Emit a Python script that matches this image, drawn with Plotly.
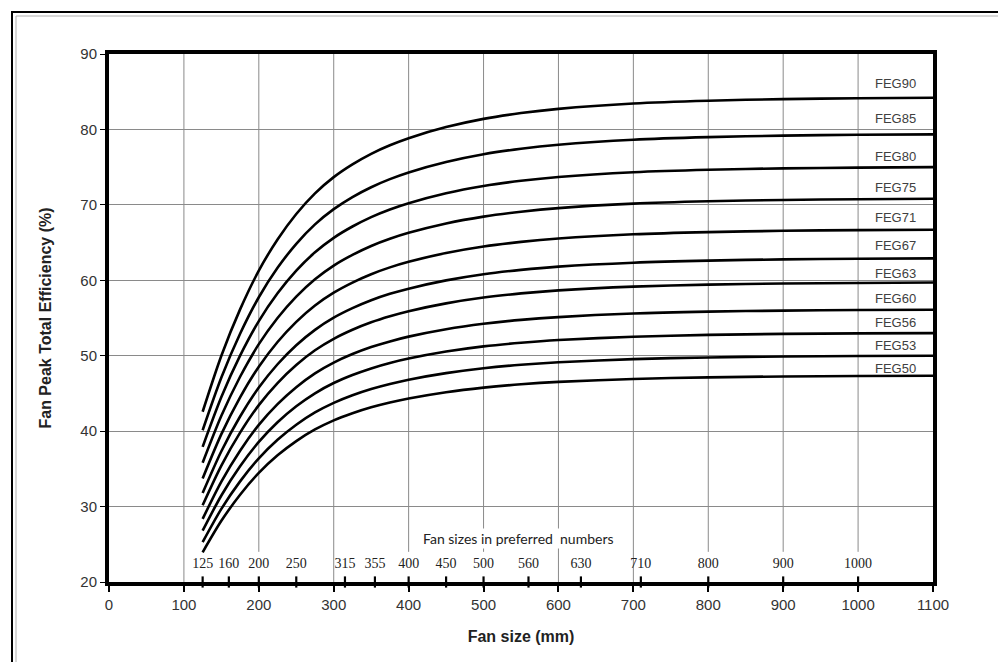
import plotly.graph_objects as go

# ---------------- data ----------------
fan_size = [125, 150, 175, 200, 225, 250, 275, 300, 325, 350, 375, 400, 450, 500, 550,
            600, 700, 800, 900, 1000, 1100]

grades = ["FEG90", "FEG85", "FEG80", "FEG75", "FEG71", "FEG67",
          "FEG63", "FEG60", "FEG56", "FEG53", "FEG50"]

feg90 = [42.57, 49.99, 56.14, 61.28, 65.41, 68.79, 71.53, 73.68, 75.37, 76.77, 77.90, 78.84, 80.31,
         81.40, 82.17, 82.73, 83.44, 83.81, 84.02, 84.13, 84.20]
feg85 = [40.12, 47.11, 52.91, 57.75, 61.65, 64.83, 67.41, 69.43, 71.03, 72.34, 73.41, 74.30, 75.68,
         76.71, 77.44, 77.97, 78.64, 78.98, 79.18, 79.29, 79.35]
feg80 = [37.92, 44.53, 50.01, 54.59, 58.27, 61.28, 63.71, 65.63, 67.13, 68.38, 69.39, 70.22, 71.54,
         72.50, 73.19, 73.70, 74.33, 74.66, 74.84, 74.94, 75.00]
feg75 = [35.80, 42.03, 47.21, 51.53, 55.00, 57.84, 60.14, 61.95, 63.37, 64.55, 65.50, 66.29, 67.53,
         68.44, 69.09, 69.57, 70.16, 70.47, 70.65, 70.74, 70.80]
feg71 = [33.72, 39.60, 44.48, 48.54, 51.82, 54.49, 56.66, 58.36, 59.70, 60.81, 61.71, 62.45, 63.62,
         64.48, 65.09, 65.54, 66.10, 66.39, 66.56, 66.65, 66.70]
feg67 = [31.80, 37.34, 41.94, 45.78, 48.87, 51.39, 53.43, 55.04, 56.30, 57.35, 58.20, 58.89, 59.99,
         60.81, 61.38, 61.81, 62.33, 62.61, 62.77, 62.85, 62.90]
feg63 = [30.18, 35.44, 39.81, 43.45, 46.38, 48.77, 50.72, 52.24, 53.44, 54.43, 55.23, 55.90, 56.94,
         57.71, 58.26, 58.66, 59.16, 59.43, 59.57, 59.65, 59.70]
feg60 = [28.36, 33.31, 37.41, 40.83, 43.58, 45.83, 47.66, 49.09, 50.22, 51.15, 51.90, 52.53, 53.51,
         54.23, 54.75, 55.12, 55.60, 55.84, 55.98, 56.06, 56.10]
feg56 = [26.80, 31.47, 35.34, 38.57, 41.18, 43.30, 45.02, 46.38, 47.44, 48.32, 49.04, 49.62, 50.55,
         51.24, 51.72, 52.08, 52.52, 52.76, 52.89, 52.96, 53.00]
feg53 = [25.28, 29.69, 33.34, 36.39, 38.85, 40.85, 42.48, 43.75, 44.76, 45.59, 46.26, 46.82, 47.69,
         48.34, 48.80, 49.13, 49.55, 49.77, 49.90, 49.96, 50.00]
feg50 = [23.94, 28.11, 31.57, 34.46, 36.79, 38.68, 40.22, 41.43, 42.38, 43.17, 43.81, 44.33, 45.16,
         45.77, 46.21, 46.53, 46.92, 47.13, 47.25, 47.31, 47.35]

series = [feg90, feg85, feg80, feg75, feg71, feg67, feg63, feg60, feg56, feg53, feg50]

preferred_sizes = [125, 160, 200, 250, 315, 355, 400, 450, 500, 560, 630, 710, 800, 900, 1000]
x_ticks = list(range(0, 1101, 100))
y_ticks = list(range(20, 91, 10))
full_grid_x = [100, 300, 600, 700]

# ---------------- figure ----------------
# page body has an 8px margin, so the figure is sized/offset accordingly
W, H = 998, 654
ML, MR, MT, MB = 101, 73, 46, 80
PW, PH = W - ML - MR, H - MT - MB
FONT = "Liberation Sans, Arial"

fig = go.Figure()

for name, vals in zip(grades, series):
    fig.add_trace(go.Scatter(
        x=fan_size, y=vals, mode="lines", name=name,
        line=dict(color="black", width=2.6, shape="spline", smoothing=0.8),
        showlegend=False, hoverinfo="x+y+name"))

# label shifts (px) above curve end
label_shift = [5, 6, 1, 2, 3, 3, 0, 2, 1, 1, -2]
for name, vals, ys in zip(grades, series, label_shift):
    fig.add_annotation(x=1080, y=vals[-1], text=name, showarrow=False,
                       xanchor="right", yanchor="bottom", yshift=ys,
                       font=dict(family=FONT, size=13, color="#404040"))

# preferred-number markers on the x axis
fig.add_trace(go.Scatter(
    x=preferred_sizes, y=[20] * len(preferred_sizes), mode="markers",
    marker=dict(symbol="line-ns", size=8, line=dict(color="black", width=2.2)),
    cliponaxis=False, showlegend=False, hoverinfo="skip"))
fig.add_trace(go.Scatter(
    x=preferred_sizes, y=[22.3] * len(preferred_sizes), mode="text",
    text=[str(v) for v in preferred_sizes],
    textfont=dict(family="Liberation Serif, DejaVu Serif", size=14, color="#222"),
    showlegend=False, hoverinfo="skip"))

fig.add_annotation(x=547, y=25.8, text="Fan sizes in preferred  numbers", showarrow=False,
                   bgcolor="white", borderpad=1,
                   font=dict(family="Lato, Open Sans", size=14, color="#222"))

# vertical gridlines (some stop above the preferred-number row)
for gx in x_ticks[1:-1]:
    y0 = 20 if gx in full_grid_x else 24.0
    fig.add_shape(type="line", x0=gx, x1=gx, y0=y0, y1=90, xref="x", yref="y",
                  line=dict(color="#8a8a8a", width=1), layer="below")

# outer frame (black outer line, grey inner line)
fig.add_shape(type="rect", xref="paper", yref="paper",
              x0=(4 - ML) / PW, x1=(997 - ML) / PW,
              y0=(H - MB - 660) / PH, y1=(H - MB - 4) / PH,
              line=dict(color="black", width=2), fillcolor="rgba(0,0,0,0)")
fig.add_shape(type="rect", xref="paper", yref="paper",
              x0=(8 - ML) / PW, x1=(993 - ML) / PW,
              y0=(H - MB - 660) / PH, y1=(H - MB - 8) / PH,
              line=dict(color="#b0b0b0", width=1), fillcolor="rgba(0,0,0,0)")

fig.update_xaxes(range=[0, 1100], tickvals=x_ticks, showgrid=False, zeroline=False,
                 showline=True, linecolor="black", linewidth=4, mirror=True,
                 ticks="outside", ticklen=6, tickwidth=2, tickcolor="black",
                 tickfont=dict(family=FONT, size=15, color="#333"),
                 title=dict(text="<b>Fan size (mm)</b>", standoff=20,
                            font=dict(family=FONT, size=16, color="#222")))
fig.update_yaxes(range=[20, 90], tickvals=y_ticks, showgrid=True, gridcolor="#8a8a8a",
                 gridwidth=1, zeroline=False,
                 showline=True, linecolor="black", linewidth=4, mirror=True,
                 ticks="outside", ticklen=5, tickwidth=1, tickcolor="black",
                 tickfont=dict(family=FONT, size=15, color="#333"),
                 title=dict(text="<b>Fan Peak Total Efficiency (%)</b>", standoff=26,
                            font=dict(family=FONT, size=16, color="#222")))

fig.update_layout(width=W, height=H, margin=dict(l=ML, r=MR, t=MT, b=MB),
                  paper_bgcolor="white", plot_bgcolor="white")

fig.write_html("out.html")
